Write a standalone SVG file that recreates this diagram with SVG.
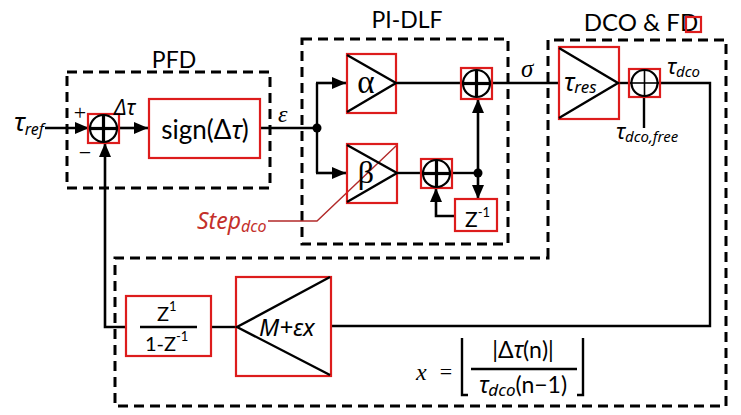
<svg xmlns="http://www.w3.org/2000/svg" width="741" height="415" viewBox="0 0 741 415">
<defs>
<style>
.dash{fill:none;stroke:#000;stroke-width:3;stroke-dasharray:10 6}
.red{fill:none;stroke:#dd1c1c;stroke-width:2.2}
.ln{fill:none;stroke:#000;stroke-width:2.4}
.arr{fill:none;stroke:#000;stroke-width:2.6;marker-end:url(#ah)}
.cir{fill:#fff;stroke:#000;stroke-width:2.2}
.plus{stroke:#000;stroke-width:3.2}
.plusthin{stroke:#000;stroke-width:1.6}
.t{font-family:Lato,"Noto Sans","Liberation Sans",sans-serif;fill:#000}
.it{font-style:italic}
.sf{font-family:"Liberation Serif","DejaVu Serif",serif;fill:#000}
.gk{font-family:"Noto Sans","DejaVu Sans",sans-serif;font-style:italic;fill:#000}
</style>
<marker id="ah" viewBox="0 0 14 12" refX="14" refY="6" markerWidth="14" markerHeight="12" markerUnits="userSpaceOnUse" orient="auto"><path d="M0,0 L14,6 L0,12 z" fill="#000"/></marker>
</defs>
<rect width="741" height="415" fill="#fff"/>

<!-- dashed group boxes -->
<g id="pfd-box">
<rect class="dash" x="67" y="72" width="203" height="116"/>
<text class="t" x="174" y="68" font-size="23" text-anchor="middle">PFD</text>
</g>
<g id="pidlf-box">
<rect class="dash" x="302" y="39" width="206" height="205"/>
<text class="t" x="407" y="28" font-size="23" text-anchor="middle">PI-DLF</text>
</g>
<g id="dco-fd-box">
<path class="dash" d="M548,258 V40 H726 V406 H115 V258 Z"/>
<text class="t" x="641" y="31" font-size="24" text-anchor="middle">DCO &amp; FD</text>
<rect class="red" x="686" y="17" width="15" height="15" stroke-width="1.8"/>
</g>

<!-- connectors -->
<g id="connectors">
<line class="arr" x1="45" y1="128" x2="89" y2="128"/>
<line class="arr" x1="119" y1="128" x2="148" y2="128"/>
<polyline class="arr" points="126,327 105,327 105,143"/>
<line class="ln" x1="260" y1="128" x2="317" y2="128"/>
<line class="ln" x1="317" y1="83" x2="317" y2="173"/>
<line class="arr" x1="316" y1="83" x2="346" y2="83"/>
<line class="arr" x1="316" y1="173" x2="346" y2="173"/>
<circle cx="317" cy="128" r="4.5" fill="#000"/>
<line class="ln" x1="396" y1="83" x2="462" y2="83"/>
<line class="ln" x1="397" y1="173" x2="422" y2="173"/>
<line class="ln" x1="451" y1="173" x2="478" y2="173"/>
<line class="arr" x1="478" y1="173" x2="478" y2="99"/>
<line class="arr" x1="478" y1="173" x2="478" y2="199"/>
<circle cx="478" cy="173" r="4.5" fill="#000"/>
<polyline class="arr" points="455,216 436,216 436,188"/>
<line class="ln" x1="491" y1="83" x2="559" y2="83"/>
<line class="ln" x1="619" y1="83" x2="631" y2="83"/>
<polyline class="ln" points="658,83 710,83 710,326 331,326"/>
<line class="ln" stroke-width="1.8" x1="644" y1="97" x2="644" y2="128"/>
<line class="ln" x1="211" y1="327" x2="236" y2="327"/>
<polyline fill="none" stroke="#b22a2a" stroke-width="1.4" points="268,221 317,221 397,145"/>
</g>

<!-- PFD -->
<g id="pfd-sum">
<rect class="red" x="88" y="114" width="31" height="29"/>
<circle class="cir" cx="103.5" cy="128.5" r="13.5"/>
<line class="plus" x1="91" y1="128.5" x2="116" y2="128.5"/>
<line class="plus" x1="103.5" y1="116" x2="103.5" y2="141"/>
</g>
<g id="sign">
<rect class="red" x="149" y="99" width="111" height="59"/>
<text class="t" x="205" y="139" font-size="26" text-anchor="middle">sign(Δ<tspan class="gk" font-size="25">τ</tspan>)</text>
</g>

<!-- PI-DLF -->
<g id="alpha">
<rect class="red" x="347" y="54" width="49" height="59"/>
<polyline class="ln" points="347,55 396,83 347,112"/>
<text class="sf" x="366" y="93" font-size="33" text-anchor="middle">α</text>
</g>
<g id="beta">
<rect class="red" x="347" y="144" width="50" height="59"/>
<polyline class="ln" points="347,145 397,173 347,202"/>
<text class="sf" x="366" y="183" font-size="32" text-anchor="middle">β</text>
</g>
<g id="sum-a">
<rect class="red" x="461" y="68" width="31" height="31"/>
<circle class="cir" cx="476.5" cy="83.5" r="13.5"/>
<line class="plus" x1="464" y1="83.5" x2="489" y2="83.5"/>
<line class="plus" x1="476.5" y1="71" x2="476.5" y2="96"/>
</g>
<g id="sum-b">
<rect class="red" x="421" y="159" width="31" height="29"/>
<circle class="cir" cx="436.5" cy="173.5" r="13.5"/>
<line class="plus" x1="424" y1="173.5" x2="449" y2="173.5"/>
<line class="plus" x1="436.5" y1="161" x2="436.5" y2="186"/>
</g>
<g id="zinv">
<rect class="red" x="455" y="199" width="42" height="32"/>
<text class="t" x="465" y="227" font-size="21">Z<tspan font-size="13" dy="-10">-1</tspan></text>
</g>

<!-- DCO -->
<g id="tres">
<rect class="red" x="559" y="47" width="60" height="72"/>
<polyline class="ln" points="559,48 618,83 559,118"/>
<text class="gk" x="564" y="91" font-size="25">τ<tspan font-size="17" dy="2">res</tspan></text>
</g>
<g id="sum-dco">
<rect class="red" x="629" y="69" width="31" height="28"/>
<circle class="cir" cx="644.5" cy="83" r="13"/>
<line class="plusthin" x1="632" y1="83" x2="657" y2="83"/>
<line class="plusthin" x1="644.5" y1="70" x2="644.5" y2="96"/>
</g>

<!-- feedback -->
<g id="integrator">
<rect class="red" x="126" y="296" width="85" height="60"/>
<line class="ln" x1="140" y1="327" x2="197" y2="327"/>
<text class="t" x="157" y="321" font-size="20">Z<tspan font-size="13" dy="-10">1</tspan></text>
<text class="t" x="145" y="351" font-size="20">1-Z<tspan font-size="13" dy="-10">-1</tspan></text>
</g>
<g id="gain">
<rect class="red" x="236" y="277" width="95" height="99"/>
<polyline class="ln" points="330,277 237,327 330,375"/>
<text class="gk" x="259" y="336" font-size="24">M+εx</text>
</g>

<!-- labels -->
<g id="labels">
<text class="gk" x="14" y="131" font-size="26">τ<tspan font-size="16" dy="4">ref</tspan></text>
<text class="sf" x="80" y="120" font-size="22" text-anchor="middle">+</text>
<text class="sf" x="85" y="160" font-size="22" text-anchor="middle">−</text>
<text class="gk" x="114" y="115" font-size="21" font-style="normal">Δ<tspan font-style="italic">τ</tspan></text>
<text class="sf" x="278" y="122" font-size="24" font-style="italic">ε</text>
<text class="sf" x="521" y="77" font-size="25" font-style="italic">σ</text>
<text class="gk" x="667" y="74" font-size="22">τ<tspan font-size="15" dy="3">dco</tspan></text>
<text class="gk" x="616" y="139" font-size="22">τ<tspan font-size="15" dy="3">dco,free</tspan></text>
<text class="gk" x="197" y="229" font-size="23" style="fill:#c4302b">Step<tspan font-size="16" dy="3">dco</tspan></text>
</g>

<g id="formula">
<text class="sf" x="416" y="380" font-size="24" font-style="italic">x</text>
<text class="sf" x="446" y="379" font-size="22" text-anchor="middle">=</text>
<path class="ln" stroke-width="1.5" d="M468,395 H462 V338"/>
<path class="ln" stroke-width="1.5" d="M577,395 H583 V338"/>
<line class="ln" stroke-width="1.6" x1="471" y1="369" x2="577" y2="369"/>
<text class="t" x="523" y="358" font-size="23" text-anchor="middle">|Δ<tspan class="gk">τ</tspan>(n)|</text>
<text class="t" x="523" y="393" font-size="23" text-anchor="middle"><tspan class="gk">τ</tspan><tspan class="gk" font-size="17" dy="3">dco</tspan><tspan dy="-3">(n−1)</tspan></text>
</g>
</svg>
